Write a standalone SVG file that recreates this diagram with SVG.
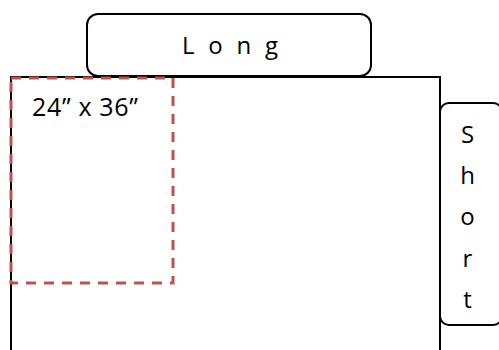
<svg xmlns="http://www.w3.org/2000/svg" width="499" height="350" viewBox="0 0 499 350">
<style>
.box{fill:#fff;stroke:#000;stroke-width:2}
.line{fill:none;stroke:#000;stroke-width:2}
.dash{fill:none;stroke:#C0504D;stroke-width:3;stroke-dasharray:10 8}
.t{font-family:"Open Sans","Liberation Sans",sans-serif;font-size:24px;fill:#000}
.big{font-size:25px}
</style>
<g id="sheet">
<path class="line" d="M11,350 V77 H440 V350"/>
</g>
<g id="long">
<rect class="box" x="87" y="14" width="284" height="62" rx="11"/>
<text class="t" x="182" y="54" textLength="96" lengthAdjust="spacing" xml:space="preserve">L  o  n  g</text>
</g>
<g id="short">
<rect class="box" x="440" y="103" width="62" height="222" rx="9"/>
<g class="t" text-anchor="middle">
<text x="467.5" y="143">S</text>
<text x="467.5" y="184">h</text>
<text x="467.5" y="225">o</text>
<text x="467.5" y="267">r</text>
<text x="467.5" y="308">t</text>
</g>
</g>
<g id="poster">
<rect class="dash" x="11" y="78" width="162" height="205"/>
<text class="t big" x="32" y="116" textLength="106" lengthAdjust="spacing">24” x 36”</text>
</g>
</svg>
